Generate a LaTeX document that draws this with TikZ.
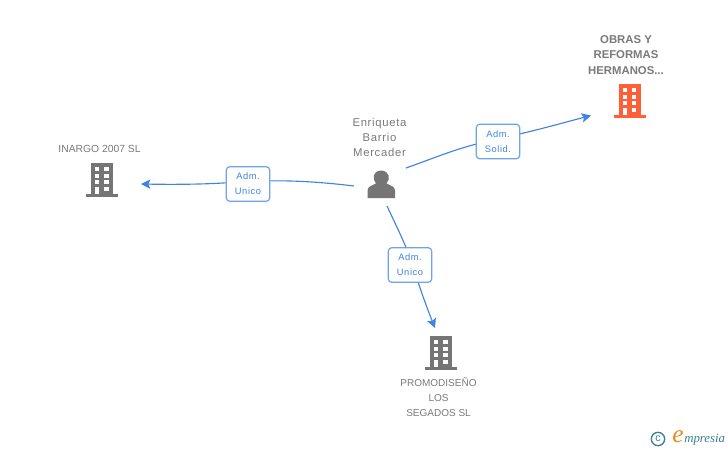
\documentclass[tikz,border=0pt]{standalone}
\usepackage{fontspec}
\setmainfont{Liberation Sans}
\newfontfamily\logofont{Liberation Serif}
\newfontfamily\spacedfont[LetterSpace=6]{Liberation Sans}
\usetikzlibrary{arrows.meta}
\definecolor{bluelink}{HTML}{3F83E4}
\definecolor{boxedge}{HTML}{6FA3EA}
\definecolor{grayicon}{HTML}{757575}
\definecolor{graytext}{HTML}{7A7A7A}
\definecolor{redicon}{HTML}{FF5F38}
\definecolor{logoteal}{HTML}{3C7F96}
\definecolor{logoorange}{HTML}{F08A1D}
\tikzset{
  x=0.75pt,y=-0.75pt,
  lbl/.style={font=\fontsize{7.5pt}{11.2pt}\selectfont,text=graytext,align=center,inner sep=0pt},
  lblwide/.style={font=\fontsize{7.75pt}{11.2pt}\selectfont,text=graytext,align=center,inner sep=0pt},
  lblname/.style={font=\spacedfont\fontsize{8.5pt}{11.25pt}\selectfont,text=graytext,align=center,inner sep=0pt},
  lblbold/.style={font=\fontsize{8.5pt}{11.4pt}\selectfont\bfseries,text=graytext,align=center,inner sep=0pt},
  rolebox/.style={draw=boxedge,line width=0.9pt,rounded corners=2.6pt,fill=white,minimum width=32.5pt,minimum height=26pt,inner sep=0pt,
    font=\spacedfont\fontsize{7pt}{11.2pt}\selectfont,text=bluelink,align=center},
  link/.style={draw=bluelink,line width=0.85pt},
  tip/.style={-{Stealth[length=7pt,width=7pt,inset=1.5pt]}},
  bld/.pic={
    \fill[pic actions] (-11,-17) rectangle (11,14);
    \fill[pic actions] (-16,14) rectangle (16,17);
    \foreach \r in {-13,-6,0}{
      \fill[white] (-7,\r) rectangle (-2.7,\r+4);
      \fill[white] (2,\r) rectangle (6.5,\r+4);
    }
    \fill[white] (-7,7) rectangle (-2.7,14);
    \fill[white] (2,7) rectangle (6.5,11);
  }
}
\begin{document}
\begin{tikzpicture}
\useasboundingbox (0,0) rectangle (728,450);
\fill[white] (0,0) rectangle (728,450);

% icons
\pic[fill=grayicon] at (102,180) {bld};
\pic[fill=redicon] at (629.5,101) {bld};
\pic[fill=grayicon] at (441,353) {bld};
\fill[grayicon] (367.5,198) -- (367.5,191) .. controls (367.5,186.5) and (371,186) .. (376,183.5)
  .. controls (372,179) and (372.5,171) .. (381,170.5)
  .. controls (390,171) and (390.5,179) .. (386.5,183.5)
  .. controls (391.5,186) and (395,186.5) .. (395,191) -- (395,198) -- cycle;

% labels
\node[lblname] (pname) at (379.5,137) {Enriqueta\\Barrio\\Mercader};
\node[lblwide] (inargo) at (99.5,149) {INARGO 2007 SL};
\node[lblbold] (obras) at (626,55) {OBRAS Y\\REFORMAS\\HERMANOS...};
\node[lbl] (promo) at (438.5,397.5) {PROMODISEÑO\\LOS\\SEGADOS SL};

\coordinate (pleft) at (354,186);
\coordinate (pright) at (406,168);
\coordinate (pdown) at (387,206);
\coordinate (binargo) at (141,184);
\coordinate (bobras) at (591,115.5);
\coordinate (bpromo) at (435,328);

\node[rolebox] (r1) at (248,184) {Adm.\\Unico};
\node[rolebox] (r2) at (498,141.5) {Adm.\\Solid.};
\node[rolebox] (r3) at (410,265) {Adm.\\Unico};

\draw[link] (pleft) .. controls (325,182.5) and (298,180.5) .. (r1.8);
\draw[link,tip] (r1.177) .. controls (200,184.5) and (170,184.5) .. (binargo);
\draw[link] (pright) .. controls (430,159.5) and (453,150) .. (r2.187);
\draw[link,tip] (r2.19) .. controls (545,128) and (568,121.5) .. (bobras);
\draw[link] (pdown) .. controls (393,219) and (400,233) .. (r3.103);
\draw[link,tip] (r3.-65) .. controls (423,297) and (429,313) .. (bpromo);

% logo
\node[circle,draw=logoteal,line width=1pt,minimum size=10pt,inner sep=0pt,text=logoteal,font=\fontsize{8pt}{8pt}\selectfont] (copy) at (658,439) {c};
\node[inner sep=0pt,text=logoorange,font=\logofont\itshape\fontsize{19pt}{19pt}\selectfont] (loge) at (678,437) {e};
\node[inner sep=0pt,anchor=west,text=logoteal,font=\logofont\itshape\fontsize{9.6pt}{9.6pt}\selectfont] (logt) at (684,439.5) {mpresia};
\end{tikzpicture}
\end{document}
